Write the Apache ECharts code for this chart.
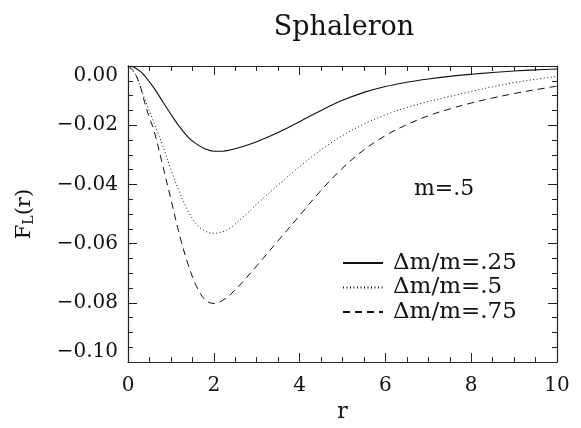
<!DOCTYPE html>
<html><head><meta charset="utf-8">
<script src="https://cdn.jsdelivr.net/npm/echarts@6/dist/echarts.min.js"></script>
<style>html,body{margin:0;padding:0;background:#fff}#c{width:581px;height:428px}</style>
</head><body><div id="c"></div>
<script>
const rValues = [0, 0.1, 0.2, 0.3, 0.4, 0.5, 0.6, 0.8, 1.0, 1.2, 1.4, 1.6, 1.8, 2.0, 2.2, 2.4, 2.7, 3.0, 3.5, 4.0, 4.5, 5.0, 5.5, 6.0, 6.5, 7.0, 7.5, 8.0, 8.5, 9.0, 9.5, 10.0];
const fSolid = [0, -0.0002, -0.0009, -0.0020, -0.0035, -0.0054, -0.0073, -0.0118, -0.0163, -0.0205, -0.0240, -0.0264, -0.0280, -0.0288, -0.0288, -0.0283, -0.0271, -0.0256, -0.0225, -0.0188, -0.0150, -0.0116, -0.0089, -0.0069, -0.0055, -0.0044, -0.0035, -0.0028, -0.0022, -0.0017, -0.0013, -0.0010];
const fDotted = [0, -0.0015, -0.0035, -0.0075, -0.0115, -0.0152, -0.0190, -0.0265, -0.0350, -0.0425, -0.0490, -0.0535, -0.0558, -0.0565, -0.0560, -0.0545, -0.0508, -0.0467, -0.0402, -0.0340, -0.0283, -0.0235, -0.0196, -0.0165, -0.0140, -0.0120, -0.0103, -0.0086, -0.0070, -0.0056, -0.0045, -0.0035];
const fDashed = [0, -0.0012, -0.0035, -0.0075, -0.0130, -0.0175, -0.0215, -0.0330, -0.0450, -0.0570, -0.0670, -0.0745, -0.0790, -0.0802, -0.0792, -0.0770, -0.0725, -0.0675, -0.0590, -0.0505, -0.0420, -0.0345, -0.0283, -0.0235, -0.0198, -0.0168, -0.0145, -0.0125, -0.0108, -0.0093, -0.0080, -0.0068];
const seriesNames = ['\u0394m/m=.25', '\u0394m/m=.5', '\u0394m/m=.75'];
const titleText = 'Sphaleron';
const noteText = 'm=.5';

const FONT = 'DejaVu Serif';
const pairs = (ys) => rValues.map((r, i) => [r, ys[i]]);
const yFmt = (v) => Math.abs(v) < 1e-9 ? '0.00' : (v < 0 ? '\u2212' : '') + Math.abs(v).toFixed(2);

const tickCommon = {
  axisLine: { show: true, onZero: false, lineStyle: { color: '#222', width: 1.2 } },
  axisTick: { show: true, inside: true, length: 9, lineStyle: { color: '#222' } },
  minorTick: { show: true, splitNumber: 4, length: 5, lineStyle: { color: '#222' } },
  splitLine: { show: false },
  minorSplitLine: { show: false }
};

const chart = echarts.init(document.getElementById('c'), null, { renderer: 'canvas' });
chart.setOption({
  backgroundColor: '#fff',
  animation: false,
  title: {
    text: titleText, left: 339, top: 9, textAlign: 'center',
    textStyle: { fontFamily: FONT, fontSize: 27, fontWeight: 'normal', color: '#111' }
  },
  grid: { left: 128, right: 24, top: 66, bottom: 57, containLabel: false },
  xAxis: [
    Object.assign({
      type: 'value', min: 0, max: 10, interval: 2, position: 'bottom',
      name: 'r', nameLocation: 'middle', nameGap: 31,
      nameTextStyle: { fontFamily: FONT, fontSize: 22, color: '#111' },
      axisLabel: { show: true, margin: 14, fontFamily: FONT, fontSize: 20, color: '#111' }
    }, tickCommon),
    Object.assign({
      type: 'value', min: 0, max: 10, interval: 2, position: 'top',
      axisLabel: { show: false }
    }, tickCommon)
  ],
  yAxis: [
    Object.assign({
      type: 'value', min: -0.10, max: 0, interval: 0.02, position: 'left',
      name: 'F{sub|L}(r)', nameLocation: 'middle', nameGap: 92, nameRotate: 90,
      nameTextStyle: {
        fontFamily: FONT, fontSize: 21, color: '#111',
        rich: { sub: { fontFamily: FONT, fontSize: 14, color: '#111', padding: [8, 0, 0, 0] } }
      },
      axisLabel: {
        show: true, margin: 10, fontFamily: FONT, fontSize: 20, color: '#111',
        formatter: yFmt, verticalAlignMaxLabel: 'top', verticalAlignMinLabel: 'bottom'
      }
    }, tickCommon),
    Object.assign({
      type: 'value', min: -0.10, max: 0, interval: 0.02, position: 'right',
      axisLabel: { show: false }
    }, tickCommon)
  ],
  legend: {
    data: seriesNames, orient: 'vertical', left: 342, top: 251, padding: 0,
    itemWidth: 40, itemHeight: 14, itemGap: 0.5, selectedMode: false,
    itemStyle: { opacity: 0 },
    textStyle: { fontFamily: FONT, fontSize: 23, lineHeight: 24, color: '#111', padding: [0, 0, 0, 5] }
  },
  graphic: [{
    type: 'text', left: 414, top: 178,
    style: { text: noteText, font: '22px "DejaVu Serif"', fill: '#111' }
  }],
  series: [
    { name: seriesNames[0], type: 'line', data: pairs(fSolid), smooth: 0.35, symbol: 'none',
      lineStyle: { color: '#111', width: 1.1, type: 'solid' }, itemStyle: { color: '#111' } },
    { name: seriesNames[1], type: 'line', data: pairs(fDotted), smooth: 0.35, symbol: 'none',
      lineStyle: { color: '#111', width: 1, type: [1, 2.5] }, itemStyle: { color: '#111' } },
    { name: seriesNames[2], type: 'line', data: pairs(fDashed), smooth: 0.35, symbol: 'none',
      lineStyle: { color: '#111', width: 1, type: [7, 5] }, itemStyle: { color: '#111' } }
  ]
});
</script></body></html>
